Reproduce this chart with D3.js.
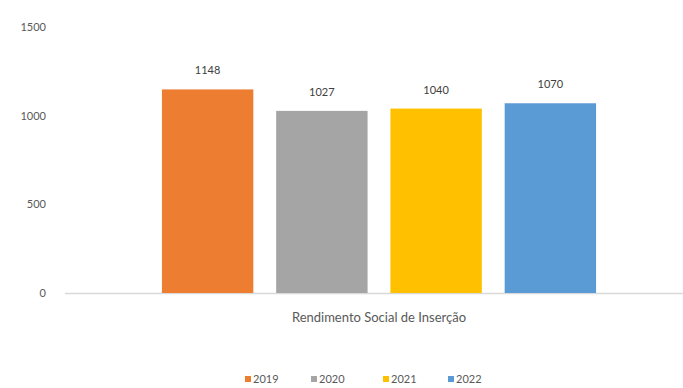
<!DOCTYPE html>
<html><head><meta charset="utf-8">
<script src="https://cdn.jsdelivr.net/npm/d3@7"></script>
<style>body{margin:0;background:#fff}svg{display:block}text{font-family:Lato,"Open Sans",sans-serif}</style>
</head><body>
<svg id="c" width="683" height="388"></svg>
<script>
const category = "Rendimento Social de Inserção";
const years = ["2019","2020","2021","2022"];
const values = [1148, 1027, 1040, 1070];
const colors = ["#ED7D31","#A5A5A5","#FFC000","#5B9BD5"];
const yTicks = [0, 500, 1000, 1500];

const svg = d3.select("#c");
const y = d3.scaleLinear().domain([0,1500]).range([293,27]);
const x = d3.scaleBand().domain(years).range([150.5,607.5]).paddingInner(0.2).paddingOuter(0.1);
const color = d3.scaleOrdinal().domain(years).range(colors);

const yAxis = d3.axisLeft(y).tickValues(yTicks).tickFormat(d3.format("d")).tickSize(0).tickPadding(0);
const ga = svg.append("g").attr("transform","translate(46,0)").call(yAxis);
ga.select(".domain").remove();
ga.selectAll("text").attr("font-size",11).attr("fill","#595959").attr("font-family","Lato");

svg.append("line").attr("x1",65).attr("x2",683).attr("y1",y(0)+0.5).attr("y2",y(0)+0.5)
  .attr("stroke","#D9D9D9").attr("stroke-width",1.5);

svg.selectAll("rect.bar").data(years).enter().append("rect").attr("class","bar")
  .attr("x",d=>x(d)).attr("width",x.bandwidth())
  .attr("y",(d,i)=>y(values[i])).attr("height",(d,i)=>y(0)-y(values[i]))
  .attr("fill",d=>color(d));

svg.selectAll("text.lbl").data(years).enter().append("text").attr("class","lbl")
  .attr("x",d=>x(d)+x.bandwidth()/2).attr("y",(d,i)=>y(values[i])-15)
  .attr("text-anchor","middle").attr("font-size",11).attr("fill","#404040")
  .text((d,i)=>values[i]);

svg.append("text").attr("x",(x.range()[0]+x.range()[1])/2).attr("y",322)
  .attr("text-anchor","middle").attr("font-size",13).attr("fill","#595959").text(category);

const lg = svg.append("g");
const lx = [245, 311, 383, 448];
years.forEach((yr,i)=>{
  lg.append("rect").attr("x",lx[i]).attr("y",376).attr("width",6).attr("height",6).attr("fill",color(yr));
  lg.append("text").attr("x",lx[i]+8).attr("y",383).attr("font-size",11).attr("fill","#595959").text(yr);
});
</script>
</body></html>
